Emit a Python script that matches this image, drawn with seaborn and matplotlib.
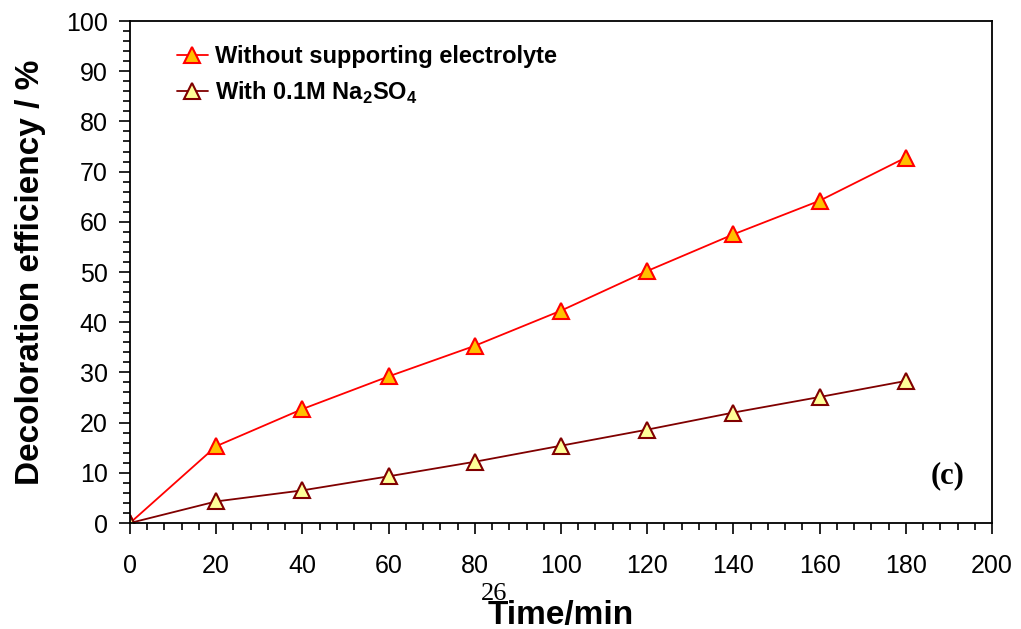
import numpy as np
import pandas as pd
import seaborn as sns
import matplotlib
matplotlib.use("Agg")
import matplotlib.pyplot as plt
from matplotlib.ticker import MultipleLocator

# values
time_min = [0, 20, 40, 60, 80, 100, 120, 140, 160, 180]
without_electrolyte = [0, 15.3, 22.7, 29.2, 35.3, 42.3, 50.2, 57.5, 64.2, 72.8]
with_na2so4 = [0, 4.3, 6.5, 9.3, 12.2, 15.4, 18.6, 22.0, 25.1, 28.3]

df = pd.DataFrame({'Time': time_min,
                   'Without': without_electrolyte,
                   'With': with_na2so4})

sns.set_style('ticks')
plt.rcParams['font.family'] = ['Liberation Sans', 'DejaVu Sans']
plt.rcParams['text.color'] = 'black'
plt.rcParams['axes.labelcolor'] = 'black'
plt.rcParams['mathtext.fontset'] = 'custom'
plt.rcParams['mathtext.rm'] = 'Liberation Sans'
plt.rcParams['mathtext.bf'] = 'Liberation Sans:bold'

fig = plt.figure(figsize=(10.21, 6.29), dpi=100)
ax = fig.add_axes([0.1273, 0.1685, 0.8443, 0.7981])

sns.lineplot(data=df, x='Time', y='Without', ax=ax, color='#FF0000', lw=1.3,
             marker='^', markersize=11.5, markerfacecolor='#FFC000',
             markeredgecolor='#FF0000', markeredgewidth=1.5,
             label='Without supporting electrolyte')
sns.lineplot(data=df, x='Time', y='With', ax=ax, color='#800000', lw=1.3,
             marker='^', markersize=11.5, markerfacecolor='#FFFF99',
             markeredgecolor='#800000', markeredgewidth=1.5,
             label=r'With 0.1M Na$_\mathbf{2}$SO$_\mathbf{4}$')

ax.set_xlim(0, 200)
ax.set_ylim(0, 100)
ax.xaxis.set_major_locator(MultipleLocator(20))
ax.xaxis.set_minor_locator(MultipleLocator(4))
ax.yaxis.set_major_locator(MultipleLocator(10))
ax.yaxis.set_minor_locator(MultipleLocator(2))
ax.tick_params(axis='both', which='both', top=False, right=False,
               direction='out', colors='black', width=1.2)
ax.tick_params(axis='both', which='major', labelsize=18, length=8, pad=8)
ax.tick_params(axis='both', which='minor', length=5)
ax.tick_params(axis='x', which='major', pad=14)
for s in ax.spines.values():
    s.set_visible(True)
    s.set_linewidth(1.3)
    s.set_color('black')

ax.set_xlabel('Time/min', fontsize=24, fontweight='bold', labelpad=16)
ax.set_ylabel('Decoloration efficiency / %', fontsize=24, fontweight='bold', labelpad=14)

leg = ax.legend(loc='upper left', bbox_to_anchor=(0.03, 0.995), frameon=False,
                prop={'size': 17, 'weight': 'bold'}, handlelength=1.3,
                handletextpad=0.3, labelspacing=0.5)

ax.text(0.968, 0.095, '(c)', transform=ax.transAxes, fontsize=22,
        fontweight='bold', family='Liberation Serif', ha='right', va='center')
fig.text(494 / 1021, 1 - 594 / 629, '26', fontsize=19,
         family='Liberation Serif', ha='center', va='center')

fig.savefig('out.png', dpi=100)
